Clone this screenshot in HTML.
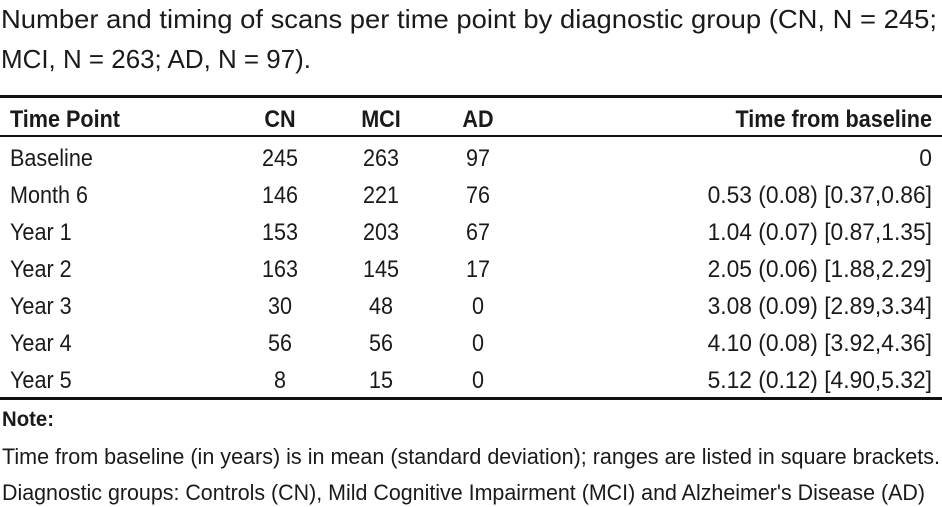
<!DOCTYPE html>
<html><head><meta charset="utf-8"><style>
html,body{margin:0;padding:0;background:#fff;}
svg{display:block;}
text{font-family:"Liberation Sans",sans-serif;fill:#1a1a1a;}
.h{font-weight:bold;}
</style></head><body>
<svg id="tbl" width="942" height="507" viewBox="0 0 942 507">
<text x="1" y="28" font-size="26" textLength="936" lengthAdjust="spacingAndGlyphs" fill="#333">Number and timing of scans per time point by diagnostic group (CN, N = 245;</text>
<text x="1" y="68" font-size="26" textLength="310" lengthAdjust="spacingAndGlyphs" fill="#333">MCI, N = 263; AD, N = 97).</text>
<rect x="0" y="95" width="942" height="3" fill="#111"/>
<rect x="0" y="135" width="942" height="2" fill="#111"/>
<rect x="0" y="397" width="942" height="3" fill="#111"/>
<g id="cells" font-size="24"></g>
<text class="h" x="2" y="426" font-size="21" textLength="52" lengthAdjust="spacingAndGlyphs">Note:</text>
<text x="2" y="464" font-size="22" textLength="938" lengthAdjust="spacingAndGlyphs">Time from baseline (in years) is in mean (standard deviation); ranges are listed in square brackets.</text>
<text x="2" y="500" font-size="22" textLength="923" lengthAdjust="spacingAndGlyphs">Diagnostic groups: Controls (CN), Mild Cognitive Impairment (MCI) and Alzheimer's Disease (AD)</text>
</svg>
<script>
const headers=["Time Point","CN","MCI","AD","Time from baseline"];
const timePoints=["Baseline","Month 6","Year 1","Year 2","Year 3","Year 4","Year 5"];
const cn=[245,146,153,163,30,56,8];
const mci=[263,221,203,145,48,56,15];
const ad=[97,76,67,17,0,0,0];
const timing=["0","0.53 (0.08) [0.37,0.86]","1.04 (0.07) [0.87,1.35]","2.05 (0.06) [1.88,2.29]","3.08 (0.09) [2.89,3.34]","4.10 (0.08) [3.92,4.36]","5.12 (0.12) [4.90,5.32]"];
const NS="http://www.w3.org/2000/svg";
const g=document.getElementById('cells');
const colX=[10,280,381,478,932];
const anchors=["start","middle","middle","middle","end"];
function mk(txt,col,y,bold,name,sc){
  const t=document.createElementNS(NS,'text');
  t.setAttribute('x',colX[col]);t.setAttribute('y',y);
  t.setAttribute('text-anchor',anchors[col]);
  if(bold)t.setAttribute('class','h');
  t.textContent=txt;
  
  
  g.appendChild(t);
  const w=t.getComputedTextLength();
  t.setAttribute('textLength',(w*(sc||0.9)).toFixed(1));
  t.setAttribute('lengthAdjust','spacingAndGlyphs');
}
headers.forEach((h,i)=>mk(h,i,127,true,'header-cell'));
timePoints.forEach((tp,r)=>{
  const y=166+r*37;
  mk(tp,0,y,false,'row-label');
  mk(String(cn[r]),1,y,false,'cn-cell');
  mk(String(mci[r]),2,y,false,'mci-cell');
  mk(String(ad[r]),3,y,false,'ad-cell');
  mk(timing[r],4,y,false,'timing-cell',0.95);
});
</script>
</body></html>
